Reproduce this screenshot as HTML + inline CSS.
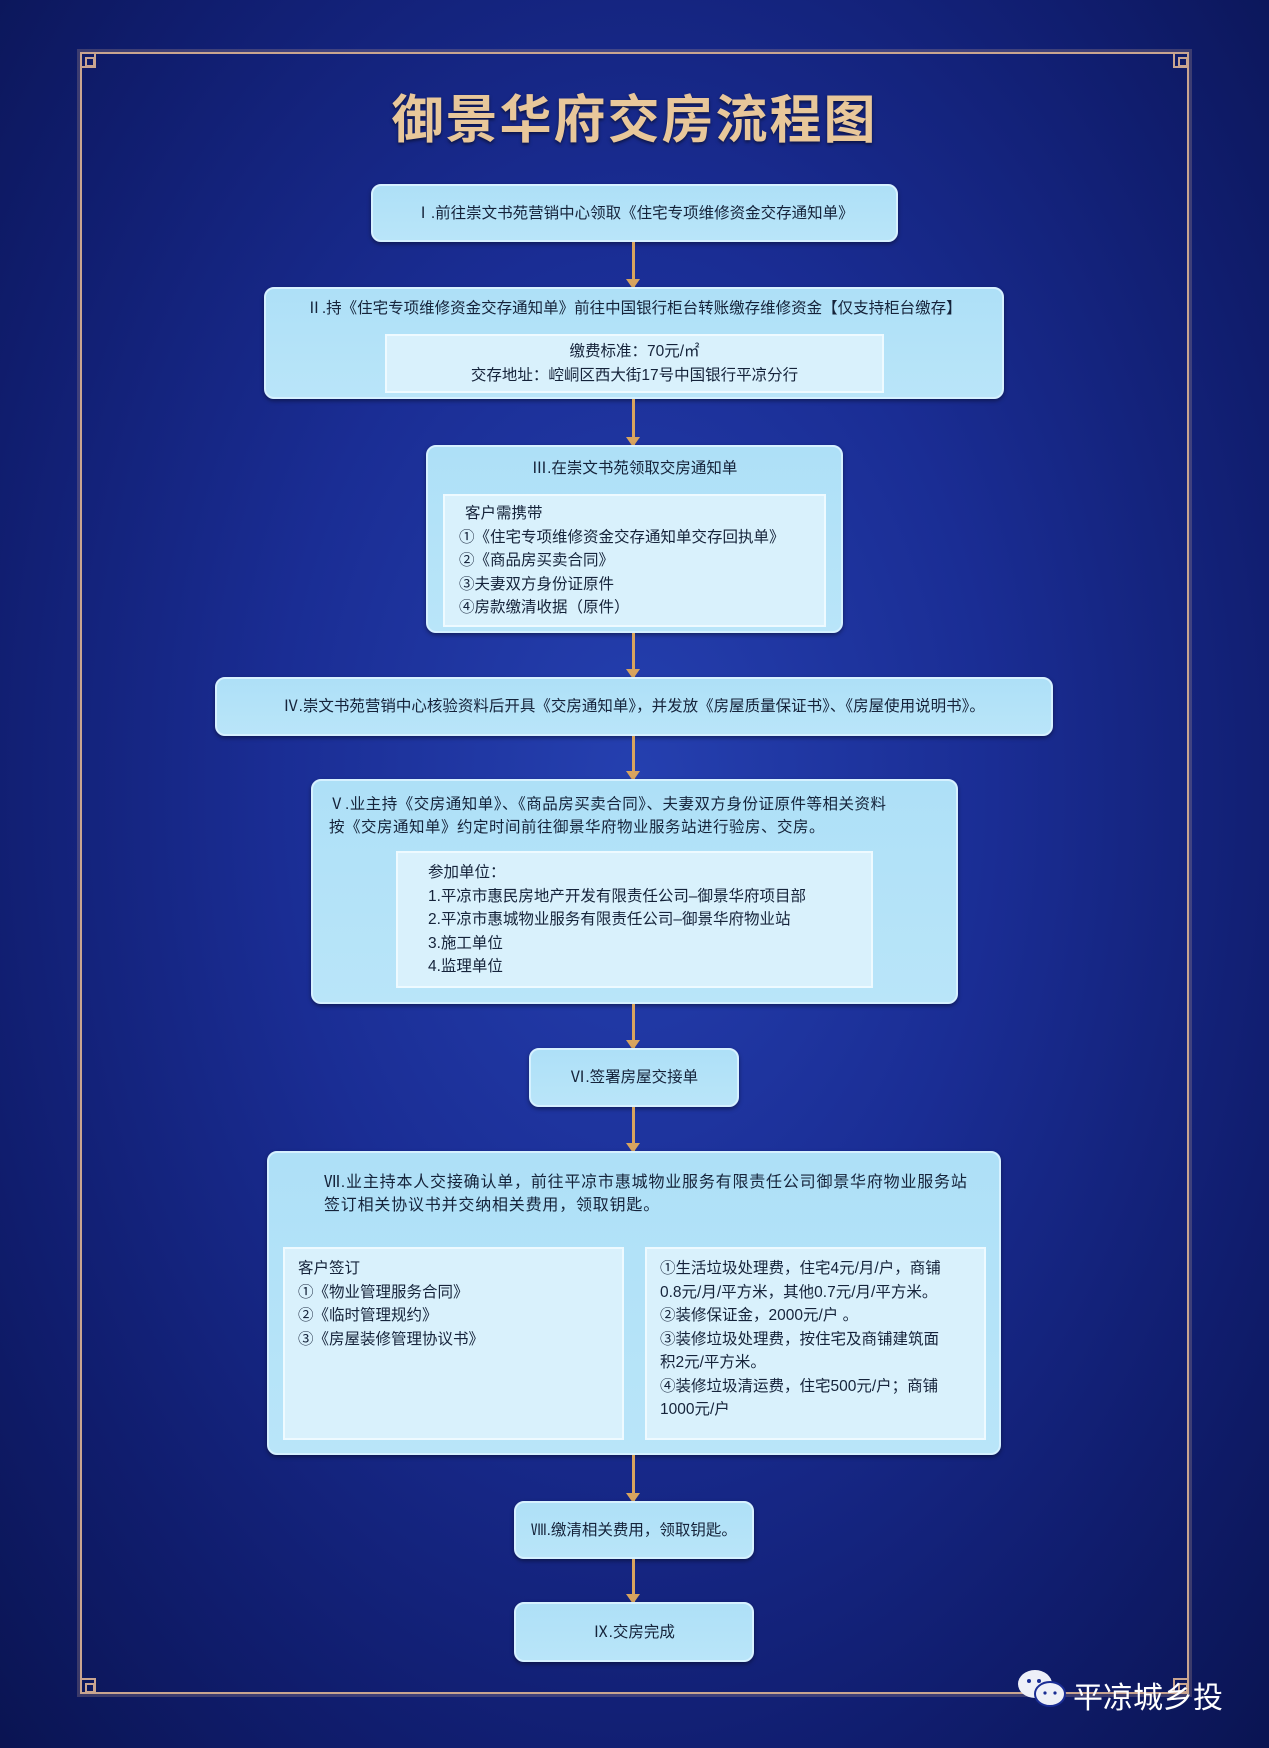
<!DOCTYPE html>
<html><head><meta charset="utf-8"><style>
*{margin:0;padding:0;box-sizing:border-box}
body{width:1269px;height:1748px;overflow:hidden;position:relative;
background:radial-gradient(ellipse at 50% 45%,#2540b0 0%,#1a2d94 40%,#101d6e 75%,#0a1452 100%);
font-family:"Liberation Sans","Noto Sans CJK SC",sans-serif;color:#15233a}
.frame{position:absolute;left:80px;top:52px;width:1109px;height:1642px;border:2px solid #c9a590;box-shadow:0 0 0 3px rgba(201,165,144,.25)}
.c{position:absolute;width:16px;height:16px;border:2px solid #c9a590}
.c:after{content:"";position:absolute;left:3px;top:3px;width:6px;height:6px;border:2px solid #c9a590}
.title{position:absolute;left:0;width:1269px;top:78px;text-align:center;font-size:52px;font-weight:bold;letter-spacing:2px;
font-family:"Noto Sans CJK SC",sans-serif;color:#e8c79a;text-shadow:0 2px 3px rgba(0,0,0,.5)}
.b{position:absolute;background:linear-gradient(#aee0f7,#b9e5f9);border-radius:10px;border:2px solid #d6f1ff;box-shadow:0 2px 4px rgba(0,0,0,.4);font-size:15.5px;line-height:23px}
.in{position:absolute;background:#d9f1fc;border:2px solid #eefaff;font-size:15.5px;line-height:23.5px}
.ctr{display:flex;align-items:center;justify-content:center;text-align:center}
.ar{position:absolute;left:632px;width:3px;background:#d8a45e}
.ar:after{content:"";position:absolute;left:-6px;bottom:-2px;border-left:7px solid transparent;border-right:7px solid transparent;border-top:10px solid #d8a45e}
.wm{position:absolute;left:1073px;top:1673px;font-size:30px;color:#fff;font-family:"Noto Sans CJK SC",sans-serif}
</style></head><body>
<div class="frame"></div>
<div class="c" style="left:80px;top:52px"></div><div class="c" style="left:1173px;top:52px"></div>
<div class="c" style="left:80px;top:1678px"></div><div class="c" style="left:1173px;top:1678px"></div>
<div class="title">御景华府交房流程图</div>

<div class="b ctr" style="left:371px;top:184px;width:527px;height:58px">Ⅰ.前往崇文书苑营销中心领取《住宅专项维修资金交存通知单》</div>
<div class="ar" style="top:242px;height:45px"></div>

<div class="b" style="left:264px;top:287px;width:740px;height:112px">
<div style="text-align:center;margin-top:8px">Ⅱ.持《住宅专项维修资金交存通知单》前往中国银行柜台转账缴存维修资金【仅支持柜台缴存】</div></div>
<div class="in ctr" style="left:385px;top:334px;width:499px;height:59px">缴费标准：70元/㎡<br>交存地址：崆峒区西大街17号中国银行平凉分行</div>
<div class="ar" style="top:399px;height:46px"></div>

<div class="b" style="left:426px;top:445px;width:417px;height:188px"><div style="text-align:center;margin-top:10px">Ⅲ.在崇文书苑领取交房通知单</div></div>
<div class="in" style="left:443px;top:494px;width:383px;height:133px;padding:6px 0 0 20px;line-height:23.5px">客户需携带<br><span style="margin-left:-6px">①《住宅专项维修资金交存通知单交存回执单》</span><br><span style="margin-left:-6px">②《商品房买卖合同》</span><br><span style="margin-left:-6px">③夫妻双方身份证原件</span><br><span style="margin-left:-6px">④房款缴清收据（原件）</span></div>
<div class="ar" style="top:633px;height:44px"></div>

<div class="b ctr" style="left:215px;top:677px;width:838px;height:59px">Ⅳ.崇文书苑营销中心核验资料后开具《交房通知单》，并发放《房屋质量保证书》、《房屋使用说明书》。</div>
<div class="ar" style="top:736px;height:43px"></div>

<div class="b" style="left:311px;top:779px;width:647px;height:225px;padding:12px 0 0 16px;letter-spacing:.5px">Ⅴ.业主持《交房通知单》、《商品房买卖合同》、夫妻双方身份证原件等相关资料<br>按《交房通知单》约定时间前往御景华府物业服务站进行验房、交房。</div>
<div class="in" style="left:396px;top:851px;width:477px;height:137px;padding:8px 0 0 30px">参加单位：<br>1.平凉市惠民房地产开发有限责任公司–御景华府项目部<br>2.平凉市惠城物业服务有限责任公司–御景华府物业站<br>3.施工单位<br>4.监理单位</div>
<div class="ar" style="top:1004px;height:44px"></div>

<div class="b ctr" style="left:529px;top:1048px;width:210px;height:59px">Ⅵ.签署房屋交接单</div>
<div class="ar" style="top:1107px;height:44px"></div>

<div class="b" style="left:267px;top:1151px;width:734px;height:304px;padding:18px 0 0 55px;font-size:16px;letter-spacing:.8px">Ⅶ.业主持本人交接确认单，前往平凉市惠城物业服务有限责任公司御景华府物业服务站<br>签订相关协议书并交纳相关费用，领取钥匙。</div>
<div class="in" style="left:283px;top:1247px;width:341px;height:193px;padding:8px 0 0 13px">客户签订<br>①《物业管理服务合同》<br>②《临时管理规约》<br>③《房屋装修管理协议书》</div>
<div class="in" style="left:645px;top:1247px;width:341px;height:193px;padding:8px 0 0 13px">①生活垃圾处理费，住宅4元/月/户，商铺<br>0.8元/月/平方米，其他0.7元/月/平方米。<br>②装修保证金，2000元/户 。<br>③装修垃圾处理费，按住宅及商铺建筑面<br>积2元/平方米。<br>④装修垃圾清运费，住宅500元/户；商铺<br>1000元/户</div>
<div class="ar" style="top:1455px;height:46px"></div>

<div class="b ctr" style="left:514px;top:1501px;width:240px;height:58px">Ⅷ.缴清相关费用，领取钥匙。</div>
<div class="ar" style="top:1559px;height:43px"></div>
<div class="b ctr" style="left:514px;top:1602px;width:240px;height:60px">Ⅸ.交房完成</div>

<svg style="position:absolute;left:1015px;top:1666px" width="56" height="46"><ellipse cx="20" cy="18" rx="17" ry="14" fill="#eef0f8"/><ellipse cx="35" cy="28" rx="15" ry="12" fill="#eef0f8" stroke="#1a2d94" stroke-width="2"/><circle cx="14" cy="15" r="2" fill="#1a2d94"/><circle cx="24" cy="15" r="2" fill="#1a2d94"/><circle cx="30" cy="27" r="1.6" fill="#1a2d94"/><circle cx="40" cy="27" r="1.6" fill="#1a2d94"/></svg>
<div class="wm">平凉城乡投</div>
</body></html>
